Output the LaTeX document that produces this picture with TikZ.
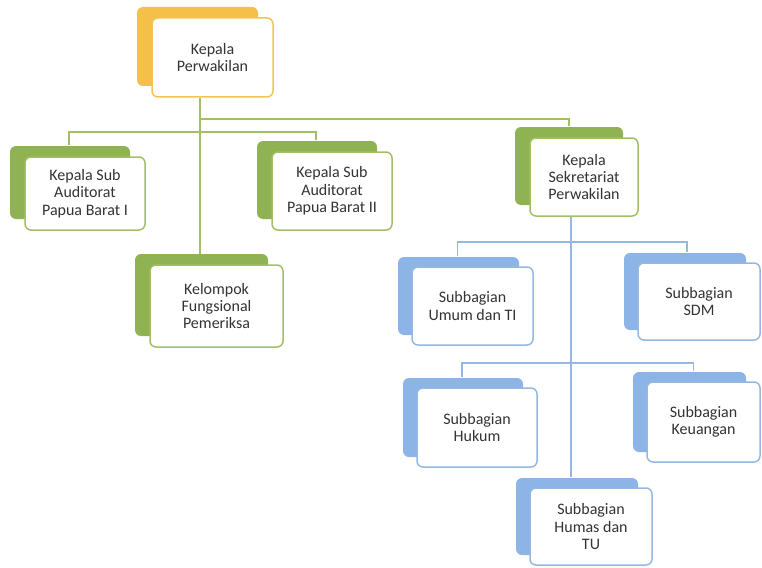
\documentclass[tikz,border=0pt]{standalone}
\usepackage{fontspec}
\setmainfont{Carlito}
\usetikzlibrary{shadows}
\definecolor{orgB}{HTML}{F4C04A}
\definecolor{orgL}{HTML}{F2C455}
\definecolor{grnB}{HTML}{8FB352}
\definecolor{grnL}{HTML}{A2BF64}
\definecolor{bluB}{HTML}{8CB4E6}
\definecolor{bluL}{HTML}{95B8E2}
\definecolor{txt}{HTML}{333333}
\begin{document}
\begin{tikzpicture}[x=1pt,y=-1pt,
  box/.style={rectangle,rounded corners=6pt,fill=white,line width=1.5pt,
    minimum width=120pt,minimum height=78pt,inner sep=2pt,align=center,
    text=txt,font=\fontsize{16}{17.3}\selectfont},
  ob/.style={box,draw=orgL,general shadow={fill=orgB,draw=none,shadow xshift=-15pt,shadow yshift=11pt}},
  gb/.style={box,draw=grnL,general shadow={fill=grnB,draw=none,shadow xshift=-15pt,shadow yshift=11pt}},
  bb/.style={box,draw=bluL,general shadow={fill=bluB,draw=none,shadow xshift=-14pt,shadow yshift=10pt}},
  gl/.style={draw=grnL,line width=1.4pt},
  bl/.style={draw=bluL,line width=1.4pt}]
  \useasboundingbox (0,0) rectangle (762,567);
  % green part
  \node[ob,minimum width=121pt,minimum height=79pt] (kp) at (212.5,57.5) {Kepala\\Perwakilan};
  \node[gb,minimum height=73pt] (pb1) at (85,193.5) {Kepala Sub\\Auditorat\\Papua Barat I};
  \node[gb] (pb2) at (332,191) {Kepala Sub\\Auditorat\\Papua Barat II};
  \node[gb,minimum width=108pt] (sek) at (584,177) {Kepala\\Sekretariat\\Perwakilan};
  \node[gb,minimum width=133pt,minimum height=82pt] (kfp) at (216.5,306) {Kelompok\\Fungsional\\Pemeriksa};
  % blue part
  \node[bb,minimum width=121pt] (umum) at (472.5,306) {Subbagian\\Umum dan TI};
  \node[bb,minimum width=122pt,minimum height=77pt] (sdm) at (699,301.5) {Subbagian\\SDM};
  \node[bb,minimum height=79pt] (hukum) at (477,427.5) {Subbagian\\Hukum};
  \node[bb,minimum width=113pt,minimum height=80pt] (keu) at (703.5,422) {Subbagian\\Keuangan};
  \node[bb,minimum width=122pt,minimum height=77pt] (humas) at (591,526.5) {Subbagian\\Humas dan\\TU};
  % connectors
  \coordinate (t1) at (200,119);
  \coordinate (t2) at (200,132);
  \draw[gl] (kp.south -| t1) -- ([yshift=10pt]kfp.north -| t1);
  \draw[gl] (t1) -| ([xshift=-15pt,yshift=11pt]sek.north);
  \draw[gl] ([xshift=-16pt,yshift=11pt]pb1.north) |- (t2) -| ([xshift=-16pt,yshift=11pt]pb2.north);
  \coordinate (t3) at ([xshift=-13pt]sek.south);
  \coordinate (r1) at (t3 |- 0,242);
  \coordinate (r2) at (t3 |- 0,363);
  \draw[bl] (t3) -- ([yshift=10pt]humas.north -| t3);
  \draw[bl] ([xshift=-15pt,yshift=10pt]umum.north) |- (r1) -| ([xshift=-12pt,yshift=10pt]sdm.north);
  \draw[bl] ([xshift=-15pt,yshift=10pt]hukum.north) |- (r2) -| ([xshift=-10pt,yshift=10pt]keu.north);
\end{tikzpicture}
\end{document}
